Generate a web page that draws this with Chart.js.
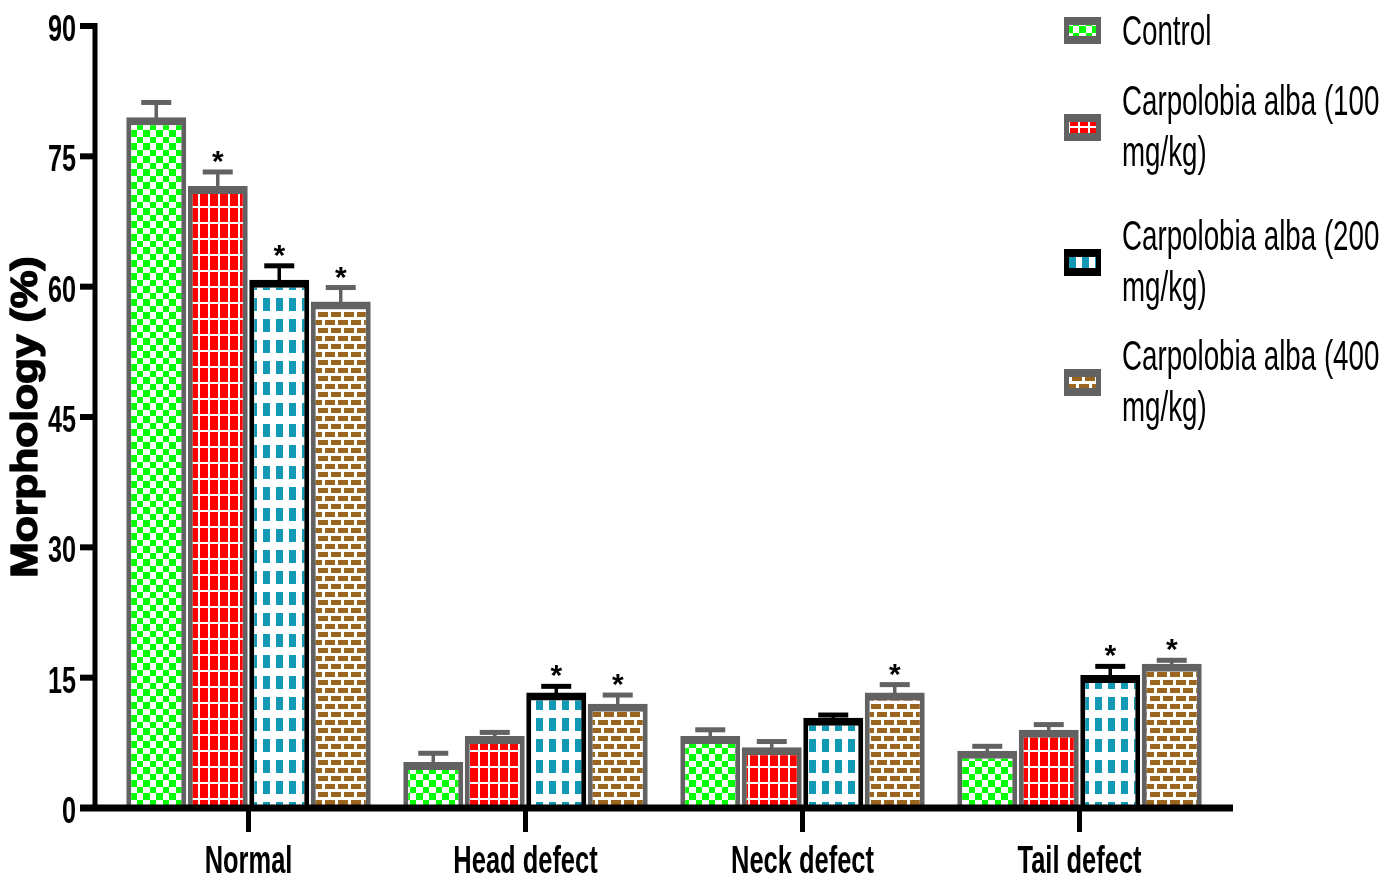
<!DOCTYPE html>
<html>
<head>
<meta charset="utf-8">
<script src="https://cdn.jsdelivr.net/npm/chart.js@4.4.1/dist/chart.umd.min.js"></script>
<style>
html, body { margin: 0; padding: 0; background: #fff; }
#wrap { width: 1400px; height: 880px; }
</style>
</head>
<body>
<div id="wrap"><canvas id="morphChart"></canvas></div>
<script>
"use strict";

var categories = ['Normal', 'Head defect', 'Neck defect', 'Tail defect'];

var controlMean = [79.5, 5.3, 8.3, 6.6];
var controlErr = [1.7, 1.0, 0.7, 0.5];
var controlStar = [false, false, false, false];

var ca100Mean = [71.6, 8.3, 7.0, 9.0];
var ca100Err = [1.6, 0.4, 0.65, 0.6];
var ca100Star = [true, false, false, false];

var ca200Mean = [60.8, 13.3, 10.4, 15.3];
var ca200Err = [1.6, 0.7, 0.3, 1.0];
var ca200Star = [true, true, false, true];

var ca400Mean = [58.3, 12.0, 13.3, 16.6];
var ca400Err = [1.6, 1.0, 0.9, 0.4];
var ca400Star = [true, true, true, true];

var yTicks = [0, 15, 30, 45, 60, 75, 90];

var legendLines = [
    ['Control'],
    ['Carpolobia alba (100', 'mg/kg)'],
    ['Carpolobia alba (200', 'mg/kg)'],
    ['Carpolobia alba (400', 'mg/kg)']
];
// first-line baselines of the legend entries
var legendBaselines = [45, 115, 250, 370];

var FONT = '"Liberation Sans", Arial, sans-serif';
var GRAY = '#626262';

var chartElem = document.getElementById('morphChart');
var mainCtx = chartElem.getContext('2d');

function makePattern(w, h, draw) {
    var c = document.createElement('canvas');
    c.width = w;
    c.height = h;
    var g = c.getContext('2d');
    g.fillStyle = '#ffffff';
    g.fillRect(0, 0, w, h);
    draw(g);
    return mainCtx.createPattern(c, 'repeat');
}

var greenPattern = makePattern(13, 13, function (g) {
    g.fillStyle = '#00ff00';
    g.fillRect(0, 0, 7, 7);
    g.fillRect(7, 7, 6, 6);
});

var redPattern = makePattern(10, 16, function (g) {
    g.fillStyle = '#ff0000';
    g.fillRect(0, 0, 8, 14);
});

var bluePattern = makePattern(13, 21, function (g) {
    g.fillStyle = '#1299b4';
    g.fillRect(3, 4, 7, 13);
});

var brownPattern = makePattern(26, 16, function (g) {
    g.fillStyle = '#99651f';
    g.fillRect(0, 0, 10, 5);
    g.fillRect(13, 0, 10, 5);
    g.fillRect(6, 8, 10, 5);
    g.fillRect(19, 8, 7, 5);
    g.fillRect(0, 8, 3, 5);
});

function squishText(ctx, text, x, y, font, sx, align) {
    ctx.save();
    ctx.font = font;
    ctx.textAlign = align;
    ctx.textBaseline = 'alphabetic';
    ctx.translate(x, y);
    ctx.scale(sx, 1);
    ctx.fillText(text, 0, 0);
    ctx.restore();
}

function barDataset(label, data, err, stars, pattern, border) {
    return {
        label: label,
        data: data,
        errors: err,
        stars: stars,
        backgroundColor: pattern,
        borderColor: border,
        borderWidth: { top: 8, left: 5, right: 5, bottom: 0 },
        borderSkipped: false,
        categoryPercentage: 0.888,
        barPercentage: 0.975
    };
}

var decorPlugin = {
    id: 'decor',
    afterDatasetsDraw: function (chart) {
        var ctx = chart.ctx;
        var yScale = chart.scales.y;
        chart.data.datasets.forEach(function (ds, i) {
            var meta = chart.getDatasetMeta(i);
            meta.data.forEach(function (bar, j) {
                var top = yScale.getPixelForValue(ds.data[j]);
                var capY = yScale.getPixelForValue(ds.data[j] + ds.errors[j]);
                ctx.save();
                ctx.fillStyle = ds.borderColor;
                ctx.fillRect(bar.x - 1.75, capY, 3.5, top - capY + 2);
                ctx.fillRect(bar.x - 15, capY - 2.5, 30, 5);
                ctx.restore();

                if (ds.stars[j]) {
                    ctx.save();
                    ctx.font = 'bold 30px ' + FONT;
                    ctx.fillStyle = '#000';
                    ctx.textAlign = 'center';
                    ctx.textBaseline = 'alphabetic';
                    var m = ctx.measureText('*');
                    var cy = capY - 15;
                    ctx.fillText('*', bar.x, cy + (m.actualBoundingBoxAscent - m.actualBoundingBoxDescent) / 2);
                    ctx.restore();
                }
            });
        });
    },
    afterDraw: function (chart) {
        var ctx = chart.ctx;
        var area = chart.chartArea;
        var xScale = chart.scales.x;
        var yScale = chart.scales.y;
        var axisX = area.left - 15;
        var y0 = yScale.getPixelForValue(0);
        var yTop = yScale.getPixelForValue(yTicks[yTicks.length - 1]);

        ctx.save();
        ctx.fillStyle = '#000';
        // y axis and ticks
        ctx.fillRect(axisX - 2.5, yTop - 3, 5, y0 - yTop + 6);
        yScale.ticks.forEach(function (t) {
            var py = yScale.getPixelForValue(t.value);
            ctx.fillRect(axisX - 15, py - 3, 15, 6);
            squishText(ctx, String(t.value), axisX - 19, py + 15, 'bold 36px ' + FONT, 0.7, 'right');
        });
        // x axis and ticks
        ctx.fillRect(axisX - 15, y0 - 3.5, area.right + 15 - (axisX - 15), 7);
        categories.forEach(function (c, i) {
            var px = xScale.getPixelForValue(i);
            ctx.fillRect(px - 2.5, y0, 5, 24);
            squishText(ctx, c, px, y0 + 65, 'bold 38px ' + FONT, 0.67, 'center');
        });

        // y axis title
        ctx.save();
        ctx.translate(37, (yTop + y0) / 2);
        ctx.rotate(-Math.PI / 2);
        ctx.scale(1.15, 1);
        ctx.font = 'bold 37px ' + FONT;
        ctx.textAlign = 'center';
        ctx.textBaseline = 'alphabetic';
        ctx.strokeStyle = '#000';
        ctx.lineWidth = 1.4;
        ctx.lineJoin = 'round';
        ctx.fillText('Morphology (%)', 0, 0);
        ctx.strokeText('Morphology (%)', 0, 0);
        ctx.restore();

        // legend
        chart.data.datasets.forEach(function (ds, i) {
            var lines = legendLines[i];
            var base = legendBaselines[i];
            var blockMid = (base - 15 + base + (lines.length - 1) * 51 - 11) / 2;
            if (lines.length === 1) {
                blockMid = base - 15;
            }
            var sy = Math.round(blockMid - 13.5);
            ctx.fillStyle = ds.borderColor;
            ctx.fillRect(1064, sy, 37, 27);
            ctx.fillStyle = ds.backgroundColor;
            ctx.fillRect(1069, sy + 8, 27, 11);
            ctx.fillStyle = '#000';
            lines.forEach(function (ln, k) {
                squishText(ctx, ln, 1122, base + k * 51, '42px ' + FONT, 0.66, 'left');
            });
        });
        ctx.restore();
    }
};

var morphChart = new Chart(chartElem, {
    type: 'bar',
    data: {
        labels: categories,
        datasets: [
            barDataset('Control', controlMean, controlErr, controlStar, greenPattern, GRAY),
            barDataset('Carpolobia alba (100 mg/kg)', ca100Mean, ca100Err, ca100Star, redPattern, GRAY),
            barDataset('Carpolobia alba (200 mg/kg)', ca200Mean, ca200Err, ca200Star, bluePattern, '#000000'),
            barDataset('Carpolobia alba (400 mg/kg)', ca400Mean, ca400Err, ca400Star, brownPattern, GRAY)
        ]
    },
    options: {
        responsive: true,
        maintainAspectRatio: false,
        animation: false,
        layout: { padding: { left: 110, right: 182, top: 26, bottom: 72 } },
        plugins: {
            legend: { display: false },
            tooltip: { enabled: false }
        },
        scales: {
            x: { display: false },
            y: {
                display: false,
                min: 0,
                max: 90,
                afterBuildTicks: function (scale) {
                    scale.ticks = yTicks.map(function (v) { return { value: v }; });
                }
            }
        }
    },
    plugins: [decorPlugin]
});
</script>
</body>
</html>
